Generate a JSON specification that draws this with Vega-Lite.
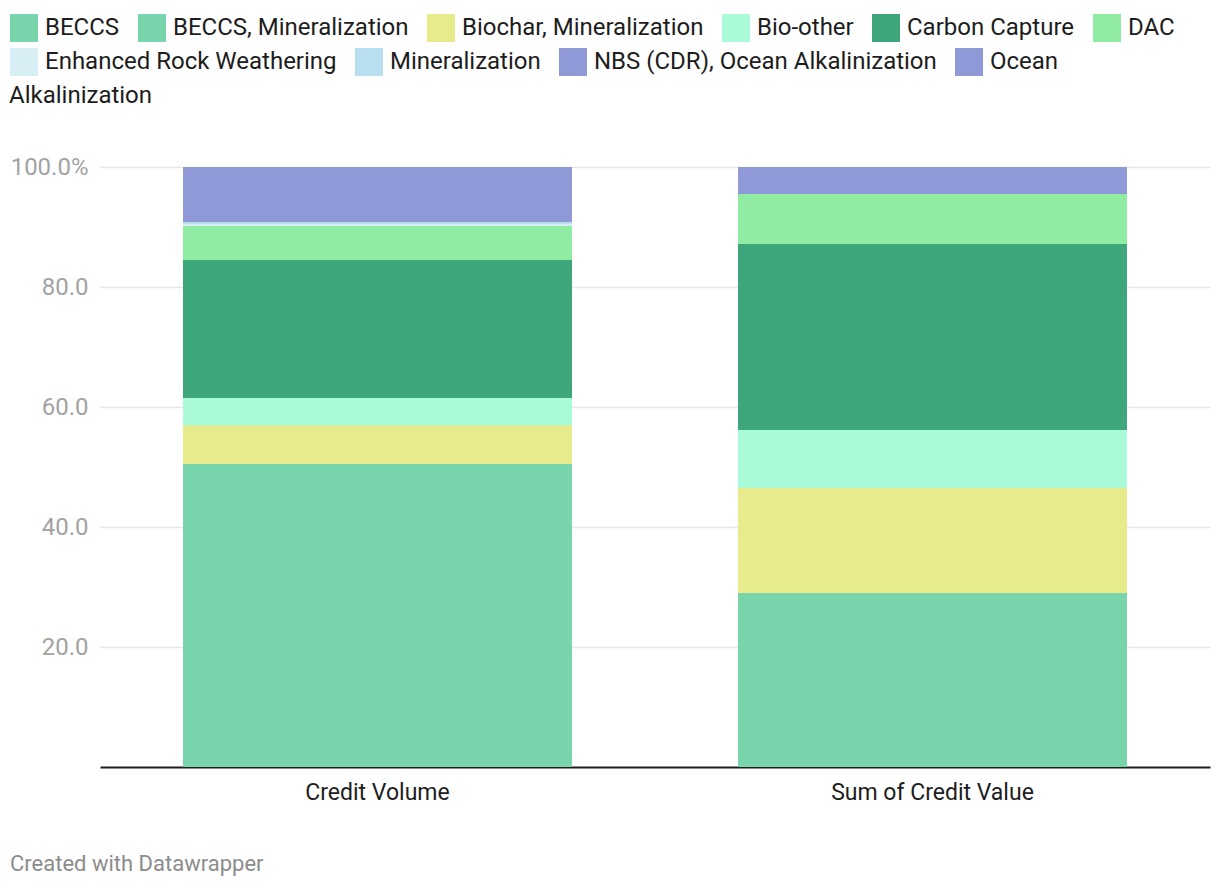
{
  "$schema": "https://vega.github.io/schema/vega-lite/v6.json",
  "width": 1110,
  "height": 600,
  "autosize": {"type": "none"},
  "padding": {"left": 100, "top": 167, "right": 10, "bottom": 121},
  "background": "white",
  "config": {
    "view": {"stroke": null},
    "font": "Roboto",
    "legend": {
      "title": null,
      "orient": "none",
      "direction": "horizontal",
      "columns": 10,
      "symbolType": "square",
      "symbolSize": 784,
      "symbolStrokeWidth": 0,
      "symbolOpacity": 1,
      "labelFontSize": 24,
      "labelFont": "Roboto",
      "labelColor": "#1d1d1d",
      "labelOffset": 7,
      "labelLimit": 600,
      "columnPadding": 18,
      "rowPadding": 6
    }
  },
  "title": {
    "text": "Created with Datawrapper",
    "orient": "bottom",
    "anchor": "start",
    "frame": "group",
    "dx": -90,
    "offset": 50,
    "fontSize": 22,
    "fontWeight": "normal",
    "color": "#8c8c8c",
    "font": "Roboto"
  },
  "data": {
    "values": [
      {"measure": "Credit Volume", "tech": "BECCS, Mineralization", "pct": 50.5},
      {"measure": "Credit Volume", "tech": "Biochar, Mineralization", "pct": 6.45},
      {"measure": "Credit Volume", "tech": "Bio-other", "pct": 4.55},
      {"measure": "Credit Volume", "tech": "Carbon Capture", "pct": 23.0},
      {"measure": "Credit Volume", "tech": "DAC", "pct": 5.67},
      {"measure": "Credit Volume", "tech": "Enhanced Rock Weathering", "pct": 0.33},
      {"measure": "Credit Volume", "tech": "Mineralization", "pct": 0.33},
      {"measure": "Credit Volume", "tech": "Ocean Alkalinization", "pct": 9.17},
      {"measure": "Sum of Credit Value", "tech": "BECCS, Mineralization", "pct": 29.0},
      {"measure": "Sum of Credit Value", "tech": "Biochar, Mineralization", "pct": 17.5},
      {"measure": "Sum of Credit Value", "tech": "Bio-other", "pct": 9.67},
      {"measure": "Sum of Credit Value", "tech": "Carbon Capture", "pct": 31.0},
      {"measure": "Sum of Credit Value", "tech": "DAC", "pct": 8.33},
      {"measure": "Sum of Credit Value", "tech": "Ocean Alkalinization", "pct": 4.5}
    ]
  },
  "transform": [
    {"calculate": "indexof(['BECCS','BECCS, Mineralization','Biochar, Mineralization','Bio-other','Carbon Capture','DAC','Enhanced Rock Weathering','Mineralization','NBS (CDR), Ocean Alkalinization','Ocean Alkalinization'], datum.tech)", "as": "ord"}
  ],
  "encoding": {
    "x": {
      "field": "measure",
      "type": "nominal",
      "sort": null,
      "scale": {"paddingInner": 0.3, "paddingOuter": 0.15},
      "axis": {
        "title": null,
        "labelAngle": 0,
        "labelFontSize": 23,
        "labelFont": "Roboto",
        "labelColor": "#1d1d1d",
        "labelPadding": 14,
        "labelLimit": 600,
        "ticks": false,
        "domainColor": "#1d1d1d",
        "domainWidth": 2,
        "grid": false
      }
    },
    "y": {
      "field": "pct",
      "type": "quantitative",
      "stack": "zero",
      "scale": {"domain": [0, 100], "nice": false},
      "axis": {
        "title": null,
        "values": [20, 40, 60, 80, 100],
        "labelExpr": "datum.value == 100 ? '100.0%' : format(datum.value, '.1f')",
        "labelFontSize": 24,
        "labelFont": "Roboto",
        "labelColor": "#a3a3a3",
        "labelPadding": 12,
        "ticks": false,
        "domain": false,
        "grid": true,
        "gridColor": "#e6e6e6",
        "gridWidth": 1.5
      }
    },
    "order": {"field": "ord", "type": "quantitative", "sort": "ascending"}
  },
  "layer": [
    {
      "mark": {"type": "bar"},
      "encoding": {
        "color": {
          "field": "tech",
          "type": "nominal",
          "scale": {
            "domain": ["BECCS", "BECCS, Mineralization", "Biochar, Mineralization", "Bio-other", "Carbon Capture", "DAC", "Enhanced Rock Weathering", "Mineralization", "NBS (CDR), Ocean Alkalinization", "Ocean Alkalinization"],
            "range": ["#78d4ab", "#78d4ab", "#e8eb8c", "#a8fbd6", "#3ea67b", "#8feca2", "#d7eef5", "#b8dff0", "#9099d7", "#9099d7"]
          },
          "legend": {
            "values": ["BECCS", "BECCS, Mineralization", "Biochar, Mineralization", "Bio-other", "Carbon Capture", "DAC"],
            "legendX": -90,
            "legendY": -153
          }
        }
      }
    },
    {
      "mark": {"type": "bar"},
      "encoding": {
        "color": {
          "field": "tech",
          "type": "nominal",
          "scale": {
            "domain": ["BECCS", "BECCS, Mineralization", "Biochar, Mineralization", "Bio-other", "Carbon Capture", "DAC", "Enhanced Rock Weathering", "Mineralization", "NBS (CDR), Ocean Alkalinization", "Ocean Alkalinization"],
            "range": ["#78d4ab", "#78d4ab", "#e8eb8c", "#a8fbd6", "#3ea67b", "#8feca2", "#d7eef5", "#b8dff0", "#9099d7", "#9099d7"]
          },
          "legend": {
            "values": ["Enhanced Rock Weathering", "Mineralization", "NBS (CDR), Ocean Alkalinization", "Ocean Alkalinization"],
            "labelExpr": "datum.label == 'Ocean Alkalinization' ? 'Ocean' : datum.label",
            "legendX": -90,
            "legendY": -119
          }
        }
      }
    },
    {
      "mark": {"type": "bar"},
      "encoding": {
        "color": {
          "field": "tech",
          "type": "nominal",
          "scale": {
            "domain": ["BECCS", "BECCS, Mineralization", "Biochar, Mineralization", "Bio-other", "Carbon Capture", "DAC", "Enhanced Rock Weathering", "Mineralization", "NBS (CDR), Ocean Alkalinization", "Ocean Alkalinization"],
            "range": ["#78d4ab", "#78d4ab", "#e8eb8c", "#a8fbd6", "#3ea67b", "#8feca2", "#d7eef5", "#b8dff0", "#9099d7", "#9099d7"]
          },
          "legend": {
            "values": ["Ocean Alkalinization"],
            "labelExpr": "'Alkalinization'",
            "symbolSize": 0,
            "symbolOpacity": 0,
            "labelOffset": 0,
            "legendX": -115,
            "legendY": -83
          }
        }
      }
    }
  ],
  "resolve": {"scale": {"color": "independent"}}
}
